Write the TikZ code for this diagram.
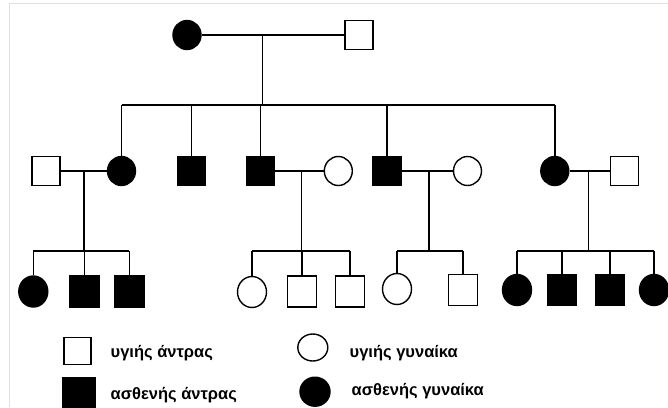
\documentclass[tikz,border=0pt]{standalone}
\usepackage{fontspec}
\setmainfont{Liberation Sans}
\usetikzlibrary{shapes.geometric}
\begin{document}
\begin{tikzpicture}[x=1pt,y=-1pt,
  line width=1.4pt,
  man/.style={draw=black,rectangle,inner sep=0pt,minimum width=28pt,minimum height=29pt},
  woman/.style={draw=black,ellipse,inner sep=0pt,minimum width=28pt,minimum height=29pt},
  sick/.style={fill=black},
  well/.style={fill=white},
  link/.style={draw=black,line width=1.4pt},
  lbl/.style={anchor=west,inner sep=0pt,font=\fontsize{16.5}{18}\selectfont\bfseries}
]
\useasboundingbox (0,0) rectangle (668,407);
\fill[white] (0,0) rectangle (668,407);
\draw[black!12,line width=1pt] (9,407) -- (9,3) -- (668,3);

% Generation I
\node[woman,sick] (f1) at (187,35) {};
\node[man,well] (m1) at (359,35) {};
\coordinate (d1) at (262.7,35);
\coordinate (s1) at (262.7,105);
\draw[link] (f1) -- (m1);
\draw[link] (d1) -- (s1);

% Generation II
\node[man,well] (a1) at (46,171) {};
\node[woman,sick] (a2) at (121.5,171) {};
\node[man,sick] (a3) at (191.5,171) {};
\node[man,sick] (a4) at (260.5,171) {};
\node[woman,well] (a5) at (338.3,171) {};
\node[man,sick] (a6) at (386.8,171) {};
\node[woman,well] (a7) at (467.5,171) {};
\node[woman,sick] (a8) at (554.8,171) {};
\node[man,well] (a9) at (624.7,171) {};

\draw[link] (a2.north |- s1) -- (a8.north |- s1);
\foreach \c in {a2,a3,a4,a6,a8} \draw[link] (\c.north) -- (\c.north |- s1);

\draw[link] (a1) -- (a2);
\draw[link] (a4) -- (a5);
\draw[link] (a6) -- (a7);
\draw[link] (a8) -- (a9);

\coordinate (d2) at (84,171);   \coordinate (s2) at (84,251);
\coordinate (d3) at (301.7,171); \coordinate (s3) at (301.7,251);
\coordinate (d4) at (429,171);  \coordinate (s4) at (429,251);
\coordinate (d5) at (588.3,171); \coordinate (s5) at (588.3,251);
\draw[link] (d2) -- (s2);
\draw[link] (d3) -- (s3);
\draw[link] (d4) -- (s4);
\draw[link] (d5) -- (s5);

% Generation III
\tikzset{gen3/.style={minimum width=29pt,minimum height=31pt}}
\node[woman,sick,gen3] (b1) at (33.3,291.5) {};
\node[man,sick,gen3] (b2) at (84.3,291.5) {};
\node[man,sick,gen3] (b3) at (129.3,291.5) {};
\node[woman,well,gen3] (b4) at (252,292) {};
\node[man,well,gen3] (b5) at (302,291.5) {};
\node[man,well,gen3] (b6) at (350,291.5) {};
\node[woman,well,gen3] (b7) at (397,289) {};
\node[man,well,gen3] (b8) at (462.8,290) {};
\node[woman,sick,gen3] (b9) at (517,290) {};
\node[man,sick,gen3] (b10) at (562,290) {};
\node[man,sick,gen3] (b11) at (610,290) {};
\node[woman,sick,gen3] (b12) at (654,290) {};

\draw[link] (b1.north |- s2) -- (b3.north |- s2);
\foreach \c in {b1,b2,b3} \draw[link] (\c.north) -- (\c.north |- s2);
\draw[link] (b4.north |- s3) -- (b6.north |- s3);
\foreach \c in {b4,b5,b6} \draw[link] (\c.north) -- (\c.north |- s3);
\draw[link] (b7.north |- s4) -- (b8.north |- s4);
\foreach \c in {b7,b8} \draw[link] (\c.north) -- (\c.north |- s4);
\draw[link] (b9.north |- s5) -- (b12.north |- s5);
\foreach \c in {b9,b10,b11,b12} \draw[link] (\c.north) -- (\c.north |- s5);

% Legend
\node[man,well,minimum width=27pt,minimum height=27pt] (k1) at (77.5,351) {};
\node[man,sick,minimum width=32pt,minimum height=30pt] (k2) at (79,393) {};
\node[woman,well,minimum width=30pt,minimum height=27pt] (k3) at (312.8,347.5) {};
\node[woman,sick,minimum width=30pt,minimum height=29pt] (k4) at (315,391.7) {};
\node[lbl] (t1) at (110,353) {υγιής άντρας};
\node[lbl] (t2) at (110,395) {ασθενής άντρας};
\node[lbl] (t3) at (349,353) {υγιής γυναίκα};
\node[lbl] (t4) at (351,391) {ασθενής γυναίκα};
\end{tikzpicture}
\end{document}
